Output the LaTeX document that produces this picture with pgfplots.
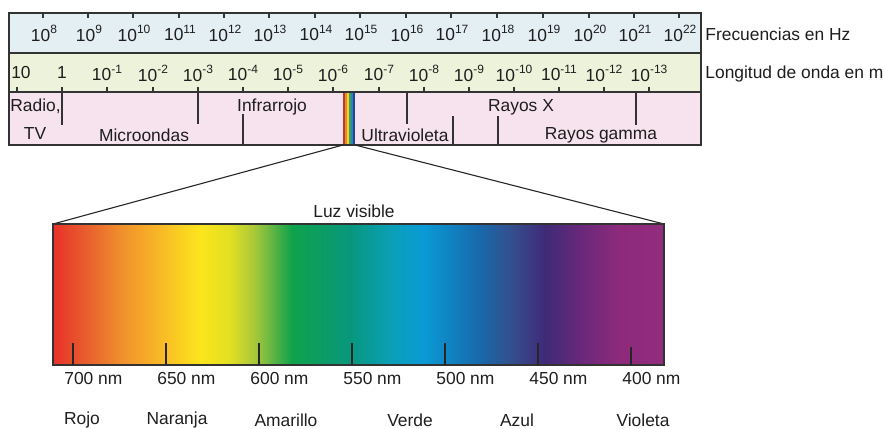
\documentclass[border=0pt]{standalone}
\usepackage{fontspec}
\setmainfont{Liberation Sans}
\usepackage{pgfplots}
\usepackage{pgfplotstable}
\pgfplotsset{compat=1.18}
\definecolor{rowA}{HTML}{E3EFF3}
\definecolor{rowB}{HTML}{EDF2DA}
\definecolor{rowC}{HTML}{F6E3ED}
\definecolor{frame}{HTML}{333333}
\definecolor{txt}{HTML}{1E1E1E}
\definecolor{s01}{HTML}{E8312A}
\definecolor{s02}{HTML}{E8632E}
\definecolor{s03}{HTML}{EF8E2C}
\definecolor{s04}{HTML}{F7AE29}
\definecolor{s05}{HTML}{FCE51C}
\definecolor{s06}{HTML}{E2DF23}
\definecolor{s07}{HTML}{A6C73B}
\definecolor{s08}{HTML}{0FA24B}
\definecolor{s09}{HTML}{08977D}
\definecolor{s10}{HTML}{0A9FB6}
\definecolor{s11}{HTML}{0A9BD6}
\definecolor{s12}{HTML}{1868AA}
\definecolor{s13}{HTML}{33508F}
\definecolor{s14}{HTML}{3F2A78}
\definecolor{s15}{HTML}{69287A}
\definecolor{s16}{HTML}{8E2A7C}
\definecolor{s17}{HTML}{912C7F}
\definecolor{v1}{HTML}{C0392B}
\definecolor{v2}{HTML}{E8892B}
\definecolor{v3}{HTML}{F2D22A}
\definecolor{v4}{HTML}{3FA34D}
\definecolor{v5}{HTML}{1E88C8}
\definecolor{v6}{HTML}{2B3F8F}
\pgfdeclarehorizontalshading{spectrum}{100bp}{color(0bp)=(s01); color(25bp)=(s01); color(28.03bp)=(s02); color(30.48bp)=(s03); color(32.94bp)=(s04); color(37.03bp)=(s05); color(39.48bp)=(s06); color(41.53bp)=(s07); color(44.56bp)=(s08); color(49.30bp)=(s09); color(52.58bp)=(s10); color(55.28bp)=(s11); color(59.94bp)=(s12); color(62.40bp)=(s13); color(65.26bp)=(s14); color(68.13bp)=(s15); color(71.40bp)=(s16); color(75bp)=(s17); color(100bp)=(s17)}
\newcommand\ex[1]{\raisebox{0.45em}{\fontsize{6}{6}\selectfont #1}}
% vertical segments of the spectrum band: x, top y, length
\pgfplotstableread{
x y e
43 13 5
88 13 5
133 13 5
179 13 5
224 13 5
269 13 5
315 13 5
360 13 5
406 13 5
451 13 5
497 13 5
543 13 5
589 13 5
634 13 5
679 13 5
17 87 5
62 87 38
107 87 5
153 87 5
198 87 37
243 87 5
288 87 5
333 87 5
379 87 5
424 87 5
469 87 5
514 87 5
559 87 5
604 87 5
649 87 5
243 114 31
407 92 32
453 116 29
498 116 29
636 92 33
}\bandticks
\pgfplotstableread{
x y e
73 343 22
166 343 22
259 343 22
352 343 22
445 343 22
538 343 22
631 347 18
}\nmticks
\begin{document}
\begin{tikzpicture}[every node/.append style={font=\fontsize{8.7}{10}\selectfont, text=txt, inner sep=0pt}]
\begin{axis}[
  width=442.5pt, height=214.5pt, scale only axis,
  xmin=0, xmax=885, ymin=0, ymax=429, y dir=reverse,
  hide axis, clip=false,
]
% band rows
\addplot[fill=rowA, draw=none] coordinates {(9,13) (701,13) (701,53) (9,53)} --cycle;
\addplot[fill=rowB, draw=none] coordinates {(9,53) (701,53) (701,92) (9,92)} --cycle;
\addplot[fill=rowC, draw=none] coordinates {(9,92) (701,92) (701,145) (9,145)} --cycle;
% visible strip
\addplot[fill=v1, draw=none] coordinates {(343,92) (345,92) (345,145) (343,145)} --cycle;
\addplot[fill=v2, draw=none] coordinates {(345,92) (347,92) (347,145) (345,145)} --cycle;
\addplot[fill=v3, draw=none] coordinates {(347,92) (349,92) (349,145) (347,145)} --cycle;
\addplot[fill=v4, draw=none] coordinates {(349,92) (351,92) (351,145) (349,145)} --cycle;
\addplot[fill=v5, draw=none] coordinates {(351,92) (353,92) (353,145) (351,145)} --cycle;
\addplot[fill=v6, draw=none] coordinates {(353,92) (355,92) (355,145) (353,145)} --cycle;
% frame
\addplot[draw=frame, line width=0.7pt] coordinates {(9,13) (701,13) (701,145) (9,145)} --cycle;
\addplot[draw=frame, line width=0.7pt] coordinates {(9,53) (701,53)};
\addplot[draw=frame, line width=0.7pt] coordinates {(9,92) (701,92)};
% ticks and region dividers
\addplot[only marks, mark size=0pt, mark options={draw opacity=0, fill opacity=0},
  error bars/.cd, y dir=plus, y explicit,
  error mark=none, error bar style={line width=0.6pt, color=frame}]
  table[x=x, y=y, y error=e]{\bandticks};
% zoom lines
\addplot[draw=black!85, line width=0.55pt] coordinates {(343,145) (53,224)};
\addplot[draw=black!85, line width=0.55pt] coordinates {(355,145) (664,224)};
% visible spectrum
\addplot[shading=spectrum, draw=none] coordinates {(53,224) (664,224) (664,365) (53,365)} --cycle;
\addplot[draw=black!80, line width=0.6pt] coordinates {(53,224) (664,224) (664,365) (53,365)} --cycle;
\addplot[only marks, mark size=0pt, mark options={draw opacity=0, fill opacity=0},
  error bars/.cd, y dir=plus, y explicit,
  error mark=none, error bar style={line width=0.6pt, color=black!85}]
  table[x=x, y=y, y error=e]{\nmticks};
% frequency labels
\node at (axis cs:44,33) {10\ex{8}};
\node at (axis cs:89,33) {10\ex{9}};
\node at (axis cs:134,33) {10\ex{10}};
\node at (axis cs:180,33) {10\ex{11}};
\node at (axis cs:225,33) {10\ex{12}};
\node at (axis cs:270,33) {10\ex{13}};
\node at (axis cs:316,33) {10\ex{14}};
\node at (axis cs:361,33) {10\ex{15}};
\node at (axis cs:407,33) {10\ex{16}};
\node at (axis cs:452,33) {10\ex{17}};
\node at (axis cs:498,33) {10\ex{18}};
\node at (axis cs:544,33) {10\ex{19}};
\node at (axis cs:590,33) {10\ex{20}};
\node at (axis cs:635,33) {10\ex{21}};
\node at (axis cs:680,33) {10\ex{22}};
\node[anchor=west] at (axis cs:705,34) {Frecuencias en Hz};
% wavelength labels
\node at (axis cs:21,73) {10};
\node at (axis cs:62,73) {1};
\node at (axis cs:107,73) {10\ex{-1}};
\node at (axis cs:153,73) {10\ex{-2}};
\node at (axis cs:198,73) {10\ex{-3}};
\node at (axis cs:243,73) {10\ex{-4}};
\node at (axis cs:288,73) {10\ex{-5}};
\node at (axis cs:333,73) {10\ex{-6}};
\node at (axis cs:379,73) {10\ex{-7}};
\node at (axis cs:424,73) {10\ex{-8}};
\node at (axis cs:469,73) {10\ex{-9}};
\node at (axis cs:514,73) {10\ex{-10}};
\node at (axis cs:559,73) {10\ex{-11}};
\node at (axis cs:604,73) {10\ex{-12}};
\node at (axis cs:649,73) {10\ex{-13}};
\node[anchor=west] at (axis cs:705,74) {Longitud de onda en m};
% regions
\node[anchor=west] at (axis cs:10,106) {Radio,};
\node at (axis cs:35,134) {TV};
\node at (axis cs:144,135) {Microondas};
\node at (axis cs:272,107) {Infrarrojo};
\node at (axis cs:405,135) {Ultravioleta};
\node at (axis cs:521,107) {Rayos X};
\node at (axis cs:601,135) {Rayos gamma};
% visible light labels
\node at (axis cs:354,211) {Luz visible};
\node[anchor=west] at (axis cs:64,379) {700 nm};
\node[anchor=west] at (axis cs:157,379) {650 nm};
\node[anchor=west] at (axis cs:250,379) {600 nm};
\node[anchor=west] at (axis cs:343,379) {550 nm};
\node[anchor=west] at (axis cs:436,379) {500 nm};
\node[anchor=west] at (axis cs:529,379) {450 nm};
\node[anchor=west] at (axis cs:622,379) {400 nm};
\node at (axis cs:82,420) {Rojo};
\node at (axis cs:177,420) {Naranja};
\node at (axis cs:286,420) {Amarillo};
\node at (axis cs:410,420) {Verde};
\node at (axis cs:517,420) {Azul};
\node at (axis cs:643,420) {Violeta};
\end{axis}
\pgfresetboundingbox
\path (current axis.south west) rectangle (current axis.north east);
\end{tikzpicture}
\end{document}
